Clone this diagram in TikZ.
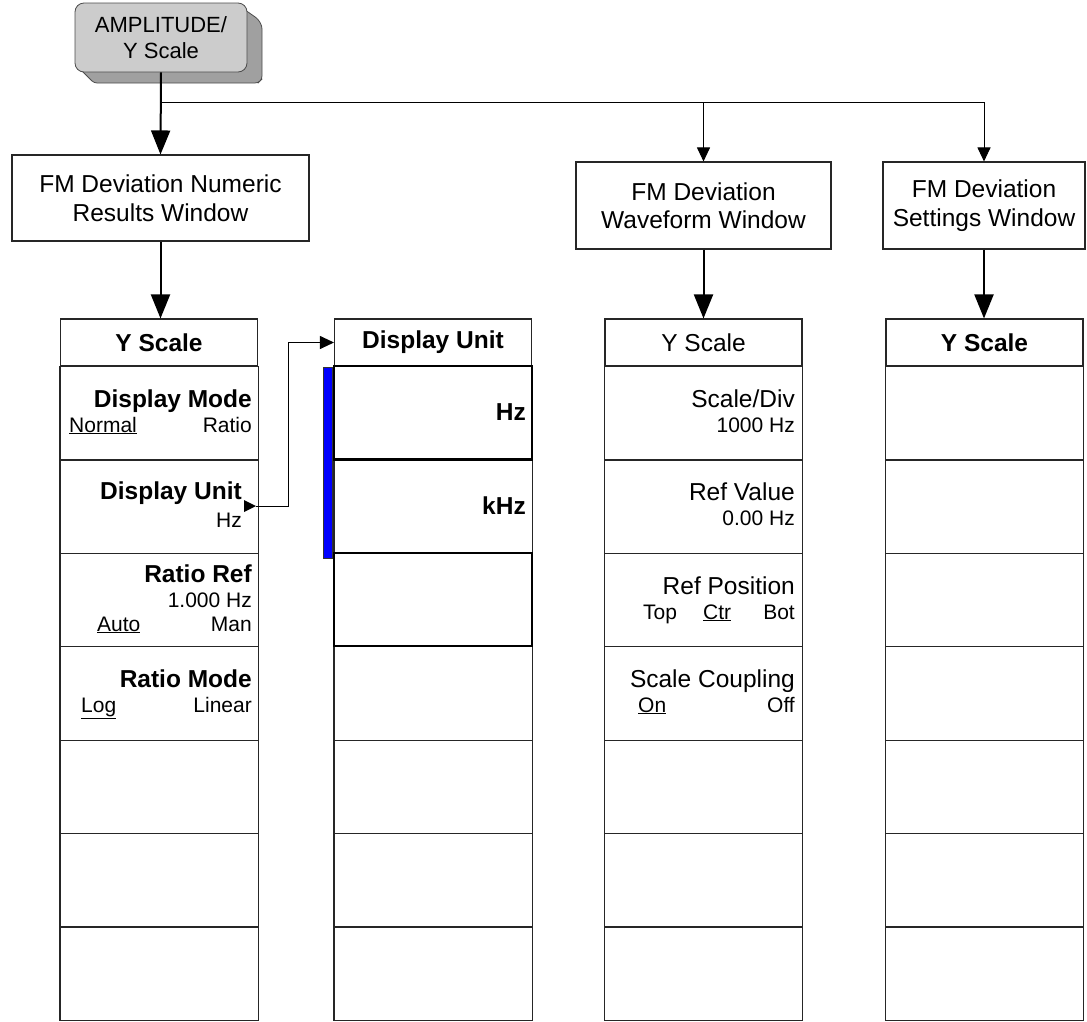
\documentclass[tikz,border=0pt]{standalone}
\usepackage{fontspec}
\setmainfont{Liberation Sans}
\usetikzlibrary{arrows.meta, positioning, calc}

\definecolor{keygray}{RGB}{204,204,204}
\definecolor{keyshade}{RGB}{160,160,160}
\newcommand{\bigtxt}{\fontsize{24.5}{28.5}\selectfont}
\newcommand{\keytxt}{\fontsize{22}{26}\selectfont}
\newcommand{\subtxt}{\fontsize{21}{25}\selectfont}

\tikzset{
  menuline/.style={draw=black!85, line width=1.1pt},
  winbox/.style={menuline, fill=white, align=center, font=\bigtxt, inner sep=0pt},
  menuhead/.style={menuline, minimum width=197pt, minimum height=47pt, inner sep=0pt, font=\bigtxt\bfseries},
  keyname/.style={anchor=base east, inner sep=0pt, font=\bigtxt\bfseries},
  keyplain/.style={anchor=base east, inner sep=0pt, font=\bigtxt},
  keyval/.style={anchor=base east, inner sep=0pt, font=\subtxt},
  keyvall/.style={anchor=base west, inner sep=0pt, font=\subtxt},
  bigarrow/.style={line width=2pt, -{Triangle[length=24pt, width=19pt]}},
  thinarrow/.style={line width=1pt, -{Triangle[length=14pt, width=13pt]}},
}

\begin{document}
\begin{tikzpicture}[x=1pt, y=-1pt]
	\useasboundingbox (0,0) rectangle (1087,1021);
	
	% Hard key with its shadow
	\filldraw[fill=keyshade, draw=black!70, line width=0.8pt, rounded corners=3pt]
		(238,5) -- (258,19) -- (262,26) -- (262,79) -- (258,83) -- (94,83) -- (79,68) -- cycle;
	\node[draw=black!70, line width=0.8pt, fill=keygray, rounded corners=9pt, minimum width=172pt,
		minimum height=69pt, align=center, font=\keytxt] (ampl) at (161,37.5) {AMPLITUDE/\\Y Scale};
	
	% Windows
	\node[winbox, minimum width=297pt, minimum height=86pt] (numeric) at (160.5,198) {FM Deviation Numeric\\Results Window};
	\node[winbox, minimum width=255pt, minimum height=87pt] (wave) at (703.5,205.5) {FM Deviation\\Waveform Window};
	\node[winbox, minimum width=202pt, minimum height=87pt] (settings) at (984,205.5) {FM Deviation\\Settings Window};
	
	% Connectors from the hard key
	\coordinate (bus) at ([yshift=-30pt]ampl.south);
	\draw[bigarrow] (ampl.south) -- (numeric.north);
	\draw[thinarrow] (wave.north |- bus) -- (wave.north);
	\draw[thinarrow] (bus) -| (settings.north);
	
	% Menu columns
	\node[menuhead] (yscale1) at (159,342.5) {Y Scale};
	\node[menuhead] (dispunit) at (433,342.5) {Display Unit};
	\node[menuhead, font=\bigtxt] (yscale3) at (703.5,342.5) {Y Scale};
	\node[menuhead] (yscale4) at (984.5,342.5) {Y Scale};
	\foreach \c in {yscale1, dispunit, yscale3, yscale4} {
		\draw[menuline] (\c.south west) rectangle ($(\c.south east)+(0,654)$);
		\foreach \i in {1,...,6}
			\draw[menuline] ($(\c.south west)+(0,93.4*\i)$) -- ($(\c.south east)+(0,93.4*\i)$);
	}
	
	% Window to menu arrows
	\draw[bigarrow] (numeric.south) -- (numeric.south |- yscale1.north);
	\draw[bigarrow] (wave.south) -- (wave.south |- yscale3.north);
	\draw[bigarrow] (settings.south) -- (settings.south |- yscale4.north);
	
	% Display Unit menu: selected keys
	\filldraw[fill=blue, draw=black!80, line width=0.6pt] (323,367) rectangle (332,558);
	\draw[line width=2.5pt] (334,366) rectangle (532,459.4);
	\draw[line width=2.5pt] (334,552.8) rectangle (532,646.2);
	\node[keyname] (hz) at (526,420) {Hz};
	\node[keyname] (khz) at (526,514) {kHz};
	
	% Y Scale menu (numeric results)
	\node[keyname] (dmode) at (252,407) {Display Mode};
	\node[keyvall] (dmnorm) at (69,432) {\underline{Normal}};
	\node[keyval] (dmratio) at (252,432) {Ratio};
	\node[keyname] (dunit) at (242,499) {Display Unit};
	\node[keyval] (duhz) at (242,527) {Hz};
	\coordinate (duout) at (256,506);
	\fill (244,500) -- (duout) -- (244,512) -- cycle;
	\draw[thinarrow] (duout) -- ++(32,0) |- (dispunit.west);
	\node[keyname] (rref) at (252,582) {Ratio Ref};
	\node[keyval] (rrefval) at (252,607) {1.000 Hz};
	\node[keyvall] (rrauto) at (97,631) {\underline{Auto}};
	\node[keyval] (rrman) at (252,631) {Man};
	\node[keyname] (rmode) at (252,687) {Ratio Mode};
	\node[keyvall] (rmlog) at (81,712) {\underline{Log}};
	\node[keyval] (rmlin) at (252,712) {Linear};
	
	% Y Scale menu (waveform)
	\node[keyplain] (sdiv) at (795,407) {Scale/Div};
	\node[keyval] (sdivval) at (795,432) {1000 Hz};
	\node[keyplain] (rval) at (795,500) {Ref Value};
	\node[keyval] (rvalval) at (795,525) {0.00 Hz};
	\node[keyplain] (rpos) at (795,594) {Ref Position};
	\node[keyvall] (rptop) at (643,619) {Top};
	\node[keyvall] (rpctr) at (703,619) {\underline{Ctr}};
	\node[keyval] (rpbot) at (795,619) {Bot};
	\node[keyplain] (scoup) at (795,687) {Scale Coupling};
	\node[keyvall] (scon) at (638,712) {\underline{On}};
	\node[keyval] (scoff) at (795,712) {Off};
\end{tikzpicture}
\end{document}
